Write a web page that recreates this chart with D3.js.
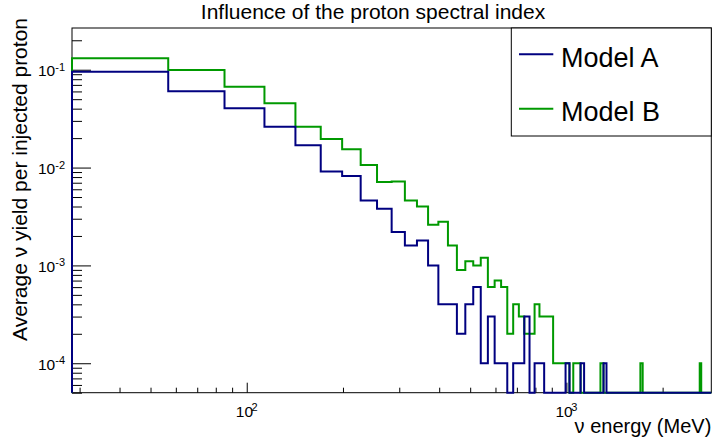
<!DOCTYPE html>
<html><head><meta charset="utf-8">
<script src="https://cdn.jsdelivr.net/npm/d3@7"></script>
<style>body{margin:0;background:#fff}svg{display:block;font-family:"Liberation Sans",Arial,Helvetica,sans-serif}</style>
</head><body><svg id="c" width="718" height="443"></svg>
<script>
const chartTitle = "Influence of the proton spectral index";
const xTitle = "\u03bd energy (MeV)";
const yTitle = "Average \u03bd yield per injected proton";
const seriesNames = ["Model A", "Model B"];
const seriesColors = ["#000080", "#009900"];
const binWidth = 28.4;          // MeV, bins start at binWidth
const modelA = [
 0.0954, 0.0602, 0.0403, 0.0262, 0.0169, 0.0091, 0.0082, 0.0046, 0.0038, 0.0022,
 0.0016, 0.0018, 0.0010, 0.0004, 0.0004, 0.0002, 0.0004, 0.0006, 0.0001, 0.0003,
 0.0001, 0.0001, 0, 0.0001, 0.0001, 0.0003, 0, 0.0001, 0.0001, 0,
 0, 0, 0, 0, 0.0001, 0, 0, 0, 0.0001, 0,
 0, 0, 0, 0, 0, 0.0001, 0, 0, 0, 0,
 0, 0, 0, 0, 0, 0, 0, 0, 0, 0,
 0, 0, 0, 0, 0, 0, 0, 0, 0, 0,
 0, 0, 0, 0, 0, 0, 0, 0, 0, 0,
 0, 0, 0, 0, 0, 0, 0, 0, 0, 0,
 0, 0, 0, 0, 0, 0, 0, 0, 0
];
const modelB = [
 0.1308, 0.0993, 0.0670, 0.0454, 0.0262, 0.0196, 0.0154, 0.0106, 0.0071, 0.0072,
 0.0046, 0.0040, 0.0026, 0.0028, 0.0016, 0.0009, 0.0011, 0.0010, 0.0012, 0.0006,
 0.0007, 0.0006, 0.0002, 0.0004, 0.0003, 0.0002, 0.0002, 0.0004, 0.0003, 0.0003,
 0.0003, 0.0001, 0.0001, 0.0001, 0.0001, 0, 0.0001, 0.0001, 0, 0,
 0, 0, 0, 0, 0.0001, 0, 0, 0, 0, 0,
 0, 0, 0, 0, 0, 0, 0, 0, 0, 0.0001,
 0, 0, 0, 0, 0, 0, 0, 0, 0, 0,
 0, 0, 0, 0, 0, 0, 0, 0, 0, 0,
 0, 0, 0, 0, 0, 0, 0, 0, 0, 0,
 0, 0.0001, 0, 0, 0, 0, 0, 0, 0
];
const xMajorTicks = [100, 1000];
const xTickLabels = [["10", "2"], ["10", "3"]];
const yMajorTicks = [1e-4, 1e-3, 1e-2, 1e-1];
const yTickLabels = [["10", "-4"], ["10", "-3"], ["10", "-2"], ["10", "-1"]];
const xDomain = [28.4, 2840];
const yDomain = [5e-5, 0.267];

const svg = d3.select("#c");
const L = 72, R = 711.3, T = 28, B = 392.7;
const x = d3.scaleLog().domain(xDomain).range([L, R]);
const y = d3.scaleLog().domain(yDomain).range([B, T]);
const isMajor = v => Math.abs(Math.log10(v) - Math.round(Math.log10(v))) < 1e-6;

// frame
svg.append("rect").attr("x", L).attr("y", T).attr("width", R - L).attr("height", B - T)
  .attr("fill", "none").attr("stroke", "#000").attr("stroke-width", 1);

// axes ticks
function styleAxis(g) { g.select(".domain").remove(); g.selectAll("line").attr("stroke", "#000").attr("stroke-width", 1); }
svg.append("g").attr("transform", `translate(0,${B})`)
  .call(d3.axisBottom(x).tickValues(xMajorTicks).tickSize(-10).tickFormat("")).call(styleAxis);
svg.append("g").attr("transform", `translate(0,${B})`)
  .call(d3.axisBottom(x).tickValues(x.ticks().filter(v => !isMajor(v))).tickSize(-5).tickFormat("")).call(styleAxis);
svg.append("g").attr("transform", `translate(${L},0)`)
  .call(d3.axisLeft(y).tickValues(yMajorTicks).tickSize(-19).tickFormat("")).call(styleAxis);
svg.append("g").attr("transform", `translate(${L},0)`)
  .call(d3.axisLeft(y).tickValues(y.ticks().filter(v => !isMajor(v))).tickSize(-10).tickFormat("")).call(styleAxis);

// tick labels
const xl = svg.append("g").selectAll("text").data(xMajorTicks).join("text")
  .attr("x", d => x(d)).attr("y", 416.7).attr("text-anchor", "middle").attr("fill", "#000");
xl.append("tspan").attr("font-size", 15.5).text((d, i) => xTickLabels[i][0]);
xl.append("tspan").attr("font-size", 11).attr("dx", -1.5).attr("dy", -5.5).text((d, i) => xTickLabels[i][1]);

const yl = svg.append("g").selectAll("text").data(yMajorTicks).join("text")
  .attr("x", 65).attr("y", d => y(d) + 6.5).attr("text-anchor", "end").attr("fill", "#000");
yl.append("tspan").attr("font-size", 15.5).text((d, i) => yTickLabels[i][0]);
yl.append("tspan").attr("font-size", 11).attr("dy", -5.5).text((d, i) => yTickLabels[i][1]);

// histograms
function histPoints(vals) {
  const pts = [[x(binWidth), B]];
  vals.forEach((v, i) => {
    const yy = v > 0 ? y(v) : B;
    pts.push([x(binWidth * (i + 1)), yy]);
    pts.push([x(binWidth * (i + 2)), yy]);
  });
  pts.push([x(binWidth * (vals.length + 1)), B]);
  return pts;
}
const line = d3.line();
[modelB, modelA].forEach((vals, k) => {
  svg.append("path").attr("d", line(histPoints(vals))).attr("fill", "none")
    .attr("stroke", seriesColors[1 - k]).attr("stroke-width", 2).attr("stroke-linejoin", "miter");
});

// titles
svg.append("text").attr("x", 373).attr("y", 18.5).attr("text-anchor", "middle")
  .attr("font-size", 21).text(chartTitle);
svg.append("text").attr("x", R).attr("y", 433.3).attr("text-anchor", "end")
  .attr("font-size", 20).text(xTitle);
svg.append("text").attr("transform", "translate(27,18) rotate(-90)").attr("text-anchor", "end")
  .attr("font-size", 21).text(yTitle);

// legend
const lg = svg.append("g");
lg.append("rect").attr("x", 511.3).attr("y", T).attr("width", R - 511.3).attr("height", 108)
  .attr("fill", "#fff").attr("stroke", "#000").attr("stroke-width", 1);
const legY = [54.3, 108.7];
seriesNames.forEach((n, i) => {
  lg.append("line").attr("x1", 519).attr("x2", 553.3).attr("y1", legY[i]).attr("y2", legY[i])
    .attr("stroke", seriesColors[i]).attr("stroke-width", 2);
  lg.append("text").attr("x", 561).attr("y", legY[i] + 12.2).attr("font-size", 27).text(n);
});
</script></body></html>
